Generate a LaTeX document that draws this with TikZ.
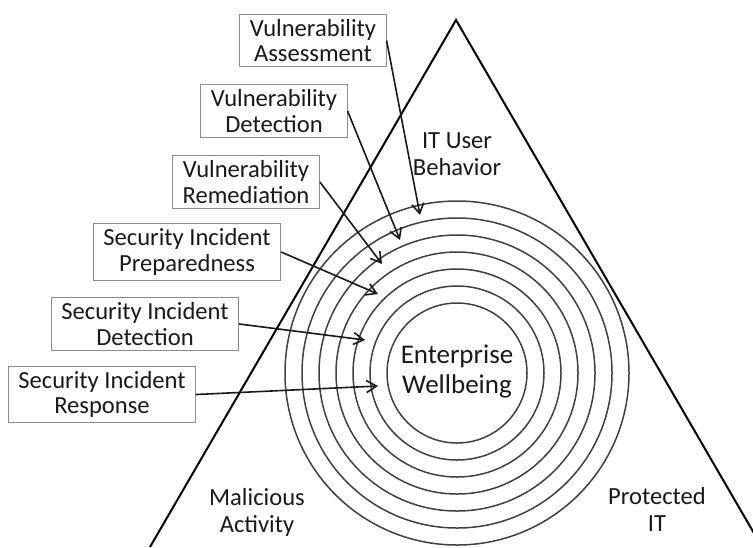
\documentclass[tikz,border=0pt]{standalone}
\usepackage{fontspec}
\setmainfont{Carlito}
\usetikzlibrary{arrows.meta}
\begin{document}
\begin{tikzpicture}[x=0.5pt,y=-0.5pt,
	box/.style={rectangle,draw=black!45,line width=0.5pt,align=center,inner xsep=5pt,inner ysep=2.4pt,font=\fontsize{12.3}{12.7}\selectfont,text=black!90},
	lbl/.style={align=center,font=\fontsize{12.3}{13.5}\selectfont,text=black!90},
	ring/.style={draw=black!75,line width=0.75pt},
	arr/.style={-{Straight Barb[length=5pt,width=6pt]},line width=0.8pt,black!90}]
	\useasboundingbox (0,0) rectangle (753,547);
	\clip (0,0) rectangle (753,547);
	\draw [line width=1pt] (150,547) -- (456,20) -- (762,547);
	\foreach \r in {70,87,...,172} \draw [ring] (457,373) circle (\r);
	\node (ew) [lbl,font=\fontsize{13.5}{15}\selectfont] at (457,372) {Enterprise\\Wellbeing};
	\node (it) [lbl] at (457,154) {IT User\\Behavior};
	\node (ma) [lbl] at (257,512) {Malicious\\Activity};
	\node (pi) [lbl] at (657,509) {Protected\\IT};
	\node (va) [box] at (313,40.5) {Vulnerability\\Assessment};
	\node (vd) [box] at (274,111) {Vulnerability\\Detection};
	\node (vr) [box] at (246,182) {Vulnerability\\Remediation};
	\node (sp) [box] at (187,252) {Security Incident\\Preparedness};
	\node (sd) [box] at (145,324) {Security Incident\\Detection};
	\node (sr) [box] at (102,394.5) {Security Incident\\Response};
	\coordinate (t1) at (420,215);
	\coordinate (t2) at (400,240);
	\coordinate (t3) at (382,264);
	\coordinate (t4) at (378,294);
	\coordinate (t5) at (365,340);
	\coordinate (t6) at (378,386);
	\draw [arr] (va.east) -- (t1);
	\draw [arr] (vd.east) -- (t2);
	\draw [arr] (vr.east) -- (t3);
	\draw [arr] (sp.east) -- (t4);
	\draw [arr] (sd.east) -- (t5);
	\draw [arr] (sr.east) -- (t6);
\end{tikzpicture}
\end{document}
